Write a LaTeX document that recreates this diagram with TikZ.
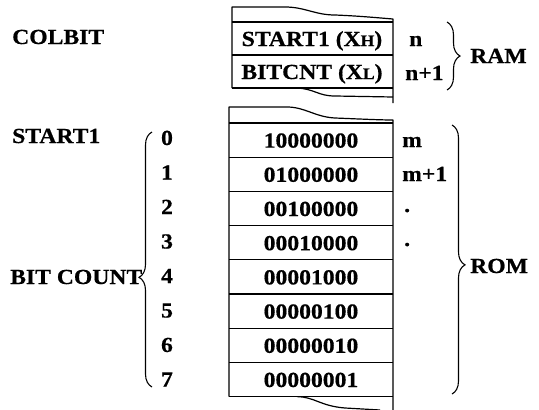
\documentclass[tikz,border=0pt]{standalone}
\usepackage{fontspec}
\setmainfont{Liberation Serif}[FakeStretch=1.1, BoldFeatures={FakeBold=0.6}]
\usetikzlibrary{decorations.pathreplacing}
\begin{document}
\begin{tikzpicture}[x=1pt,y=-1pt,
  lbl/.style={font=\fontsize{21.5}{24}\selectfont\bfseries, inner sep=0pt},
  edge/.style={line width=1.2pt, line join=round},
  brc/.style={line width=1.1pt, decorate, decoration={brace, amplitude=13pt}}]
\useasboundingbox (0,0) rectangle (539,410);

% ---------- RAM block ----------
\draw[edge] (232,88) -- (232,7) -- (285,7) .. controls (305,7) and (315,15) .. (335,15)
  .. controls (360,16) and (380,18) .. (393,19) -- (393,103);
\foreach \yy in {22,55,88} \draw[edge] (232,\yy) -- (393,\yy);
\draw[edge] (297,88) .. controls (315,89) and (318,96) .. (335,96) -- (393,97);

\node[lbl, anchor=base] (ramA) at (312,46) {START1 (X{\fontsize{16}{18}\selectfont H})};
\node[lbl, anchor=base] (ramB) at (312,79) {BITCNT (X{\fontsize{16}{18}\selectfont L})};
\node[lbl, anchor=base west] (n0) at (409,46) {n};
\node[lbl, anchor=base west] (n1) at (405,80) {n+1};

% ---------- ROM block ----------
\draw[edge] (229,396.6) -- (229,107) -- (287,107) .. controls (305,107) and (315,117) .. (335,118)
  .. controls (360,119) and (380,120) .. (393,120) -- (393,410);
\foreach \k in {0,...,8} \draw[edge] (229,123+34.2*\k) -- (393,123+34.2*\k);
\draw[edge] (297,396.6) .. controls (315,397) and (320,406) .. (345,408) -- (380,410);

\foreach \v [count=\i from 0] in {10000000,01000000,00100000,00010000,00001000,00000100,00000010,00000001}
  \node[lbl, anchor=base] (val\i) at (311,147.6+34.2*\i) {\v};

\foreach \i in {0,...,7}
  \node[lbl, anchor=base] (d\i) at (167,145+34.5*\i) {\i};

\node[lbl, anchor=base west] (m0) at (402,147) {m};
\node[lbl, anchor=base west] (m1) at (402,181) {m+1};
\node[lbl, anchor=base west] (m2) at (404,212) {.};
\node[lbl, anchor=base west] (m3) at (404,246) {.};

% ---------- left labels ----------
\node[lbl, anchor=base west] (colbit) at (12,44) {COLBIT};
\node[lbl, anchor=base west] (start) at (12,143) {START1};
\node[lbl, anchor=base west] (bitcount) at (10,284) {BIT COUNT};

% ---------- braces ----------
\coordinate (lb1) at (152,387);
\coordinate (lb2) at (152,132);
\draw[brc, decoration={aspect=0.43}] (lb1) -- (lb2);

\coordinate (rb1) at (447,22);
\coordinate (rb2) at (447,90);
\draw[brc] (rb1) -- (rb2);
\node[lbl, anchor=base west] (ram) at (470,63) {RAM};

\coordinate (ob1) at (452,125);
\coordinate (ob2) at (452,394);
\draw[brc, decoration={aspect=0.52}] (ob1) -- (ob2);
\node[lbl, anchor=base west] (rom) at (470,273) {ROM};
\end{tikzpicture}
\end{document}
